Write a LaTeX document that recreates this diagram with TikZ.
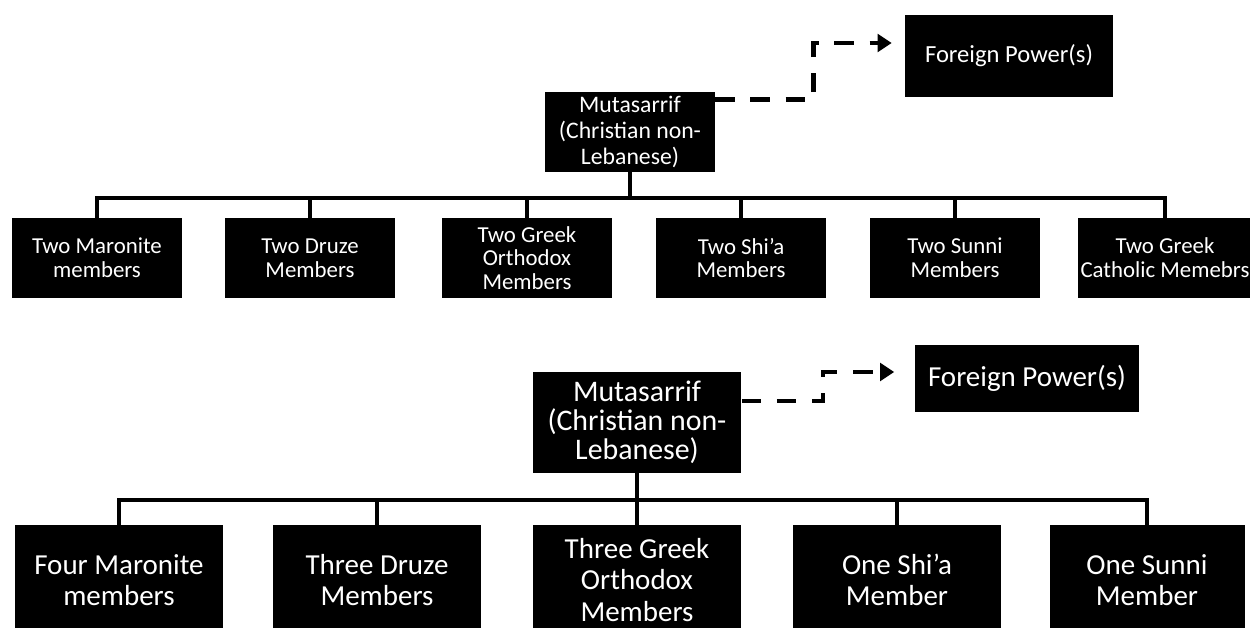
\documentclass[tikz,border=0pt]{standalone}
\usepackage{fontspec}
\setmainfont{Carlito}
\usetikzlibrary{arrows.meta}

\begin{document}
\begin{tikzpicture}[
  x=0.02cm, y=-0.02cm,
  box/.style={rectangle, fill=black, text=white, inner sep=1pt, align=center},
  topbox/.style={box, minimum width=3.42cm, minimum height=1.6cm,
                 font=\fontsize{13}{13.5}\selectfont},
  lowbox/.style={box, minimum width=4.18cm, minimum height=2.2cm,
                 font=\fontsize{16.5}{18}\selectfont},
  link/.style={line width=2.2pt},
  dashlink/.style={line width=2.5pt, dash pattern=on 11pt off 9pt,
                   -{Triangle[length=8pt,width=10pt]}}
]
\useasboundingbox (0,0) rectangle (1250,627);

\node[topbox, minimum width=3.4cm, font=\fontsize{13.5}{15}\selectfont] (mut1) at (630,132) {Mutasarrif\\(Christian non-\\Lebanese)};
\node[topbox, minimum width=4.16cm, minimum height=1.64cm, font=\fontsize{14}{15}\selectfont] (fp1) at (1009,56) {Foreign Power(s)};
\node[topbox] (tm1) at (97,258) {Two Maronite\\members};
\node[topbox] (tm2) at (310,258) {Two Druze\\Members};
\node[topbox] (tm3) at (527,258) {Two Greek\\Orthodox\\Members};
\node[topbox] (tm4) at (741,258) {Two Shi'a\\Members};
\node[topbox] (tm5) at (955,258) {Two Sunni\\Members};
\node[topbox, minimum width=3.5cm] (tm6) at (1165,258) {Two Greek\\Catholic Memebrs};

\draw[dashlink] ([yshift=-0.16cm]mut1.north east) -- ++(98,0) |- ([xshift=-0.26cm, yshift=0.26cm]fp1.west);
\draw[link] (mut1.south) -- ++(0,26) -| (tm1.north);
\draw[link] (mut1.south) -- ++(0,26) -| (tm2.north);
\draw[link] (mut1.south) -- ++(0,26) -| (tm3.north);
\draw[link] (mut1.south) -- ++(0,26) -| (tm4.north);
\draw[link] (mut1.south) -- ++(0,26) -| (tm5.north);
\draw[link] (mut1.south) -- ++(0,26) -| (tm6.north);

\node[lowbox, minimum width=4.18cm, minimum height=2.02cm, font=\fontsize{17}{16.5}\selectfont] (mut2) at (637,422) {Mutasarrif\\(Christian non-\\Lebanese)};
\node[lowbox, minimum width=4.5cm, minimum height=1.34cm] (fp2) at (1027,378) {Foreign Power(s)};
\node[lowbox] (bm1) at (119,580) {Four Maronite\\members};
\node[lowbox] (bm2) at (377,580) {Three Druze\\Members};
\node[lowbox] (bm3) at (637,580) {Three Greek\\Orthodox\\Members};
\node[lowbox] (bm4) at (897,580) {One Shi'a\\Member};
\node[lowbox, minimum width=3.9cm] (bm5) at (1147,580) {One Sunni\\Member};

\draw[dashlink] ([yshift=-0.6cm]mut2.north east) -- ++(81,0) |- ([xshift=-0.4cm, yshift=0.12cm]fp2.west);
\draw[link] (mut2.south) -- (bm3.north);
\draw[link] (mut2.south) -- ++(0,27) -| (bm1.north);
\draw[link] (mut2.south) -- ++(0,27) -| (bm2.north);
\draw[link] (mut2.south) -- ++(0,27) -| (bm4.north);
\draw[link] (mut2.south) -- ++(0,27) -| (bm5.north);
\end{tikzpicture}
\end{document}
